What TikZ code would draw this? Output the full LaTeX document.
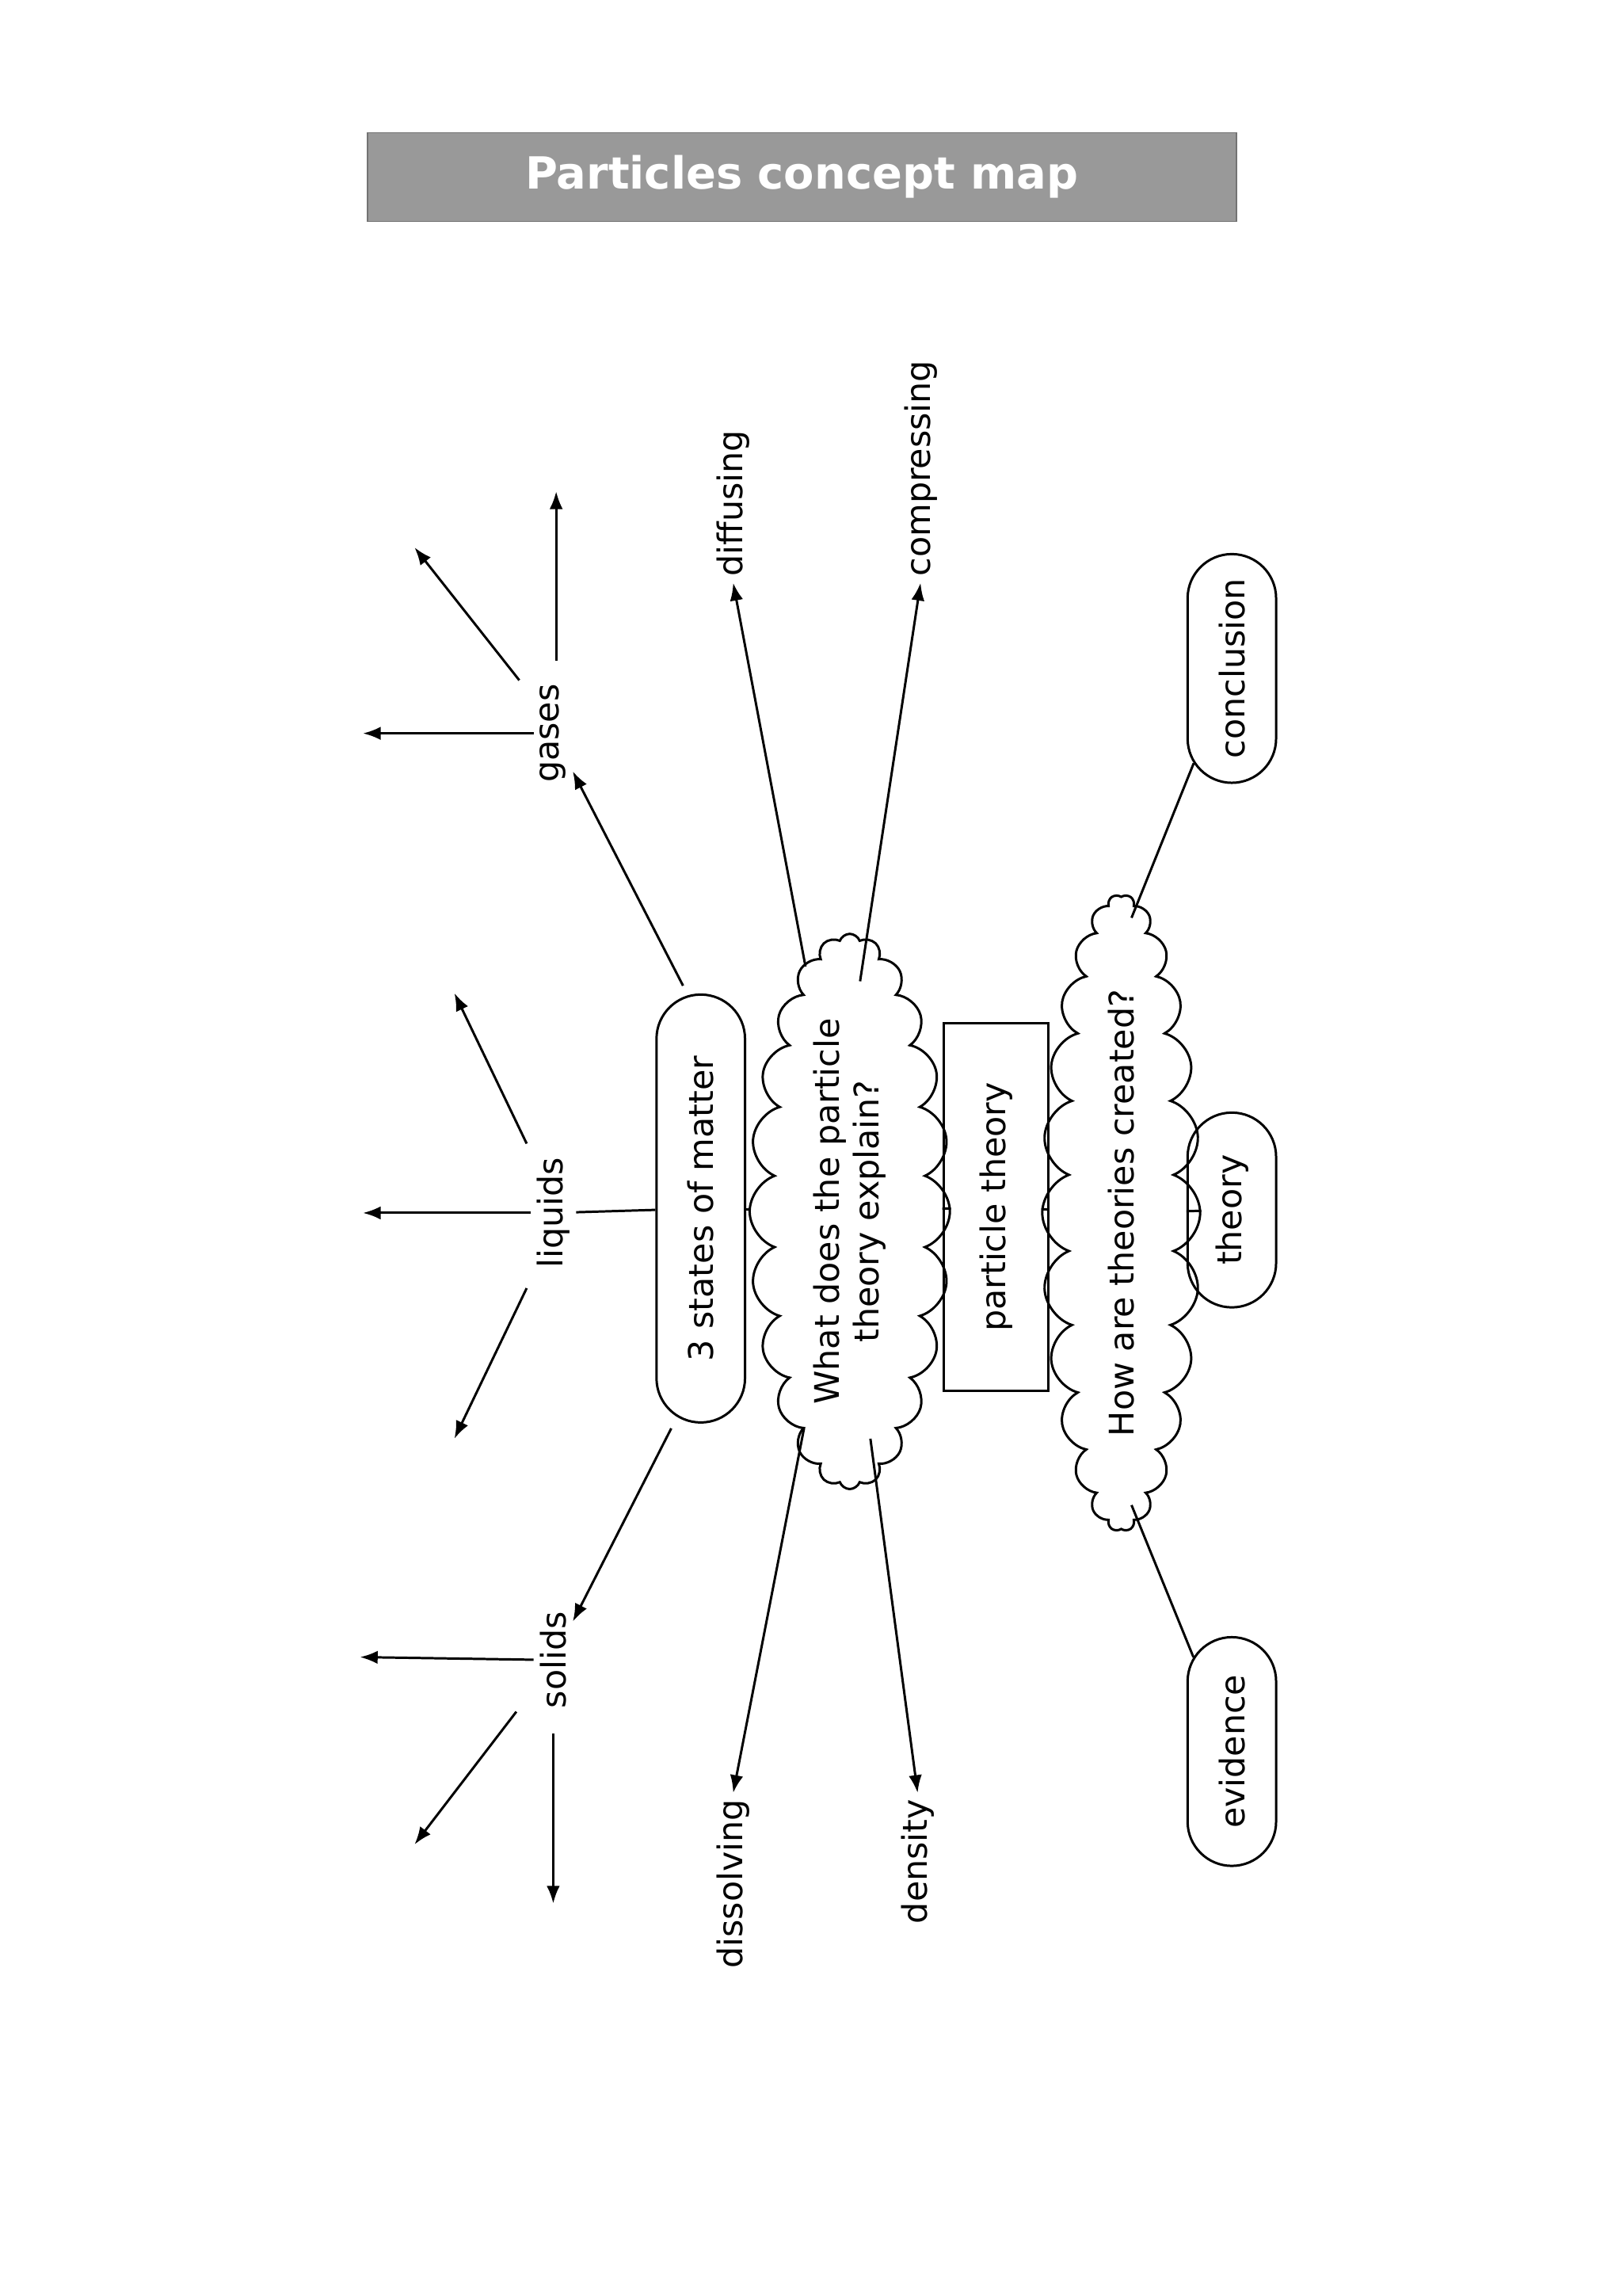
\documentclass[tikz,border=0pt]{standalone}
\usepackage{fontspec}
\setmainfont{DejaVu Sans}
\usetikzlibrary{shapes.misc,shapes.symbols,arrows.meta}
\begin{document}
\begin{tikzpicture}[x=0.5pt,y=-0.5pt,
  every node/.style={font=\fontsize{11.5}{13.5}\selectfont},
  lab/.style={rotate=90,inner sep=2pt},
  pill/.style={draw,rounded rectangle,rotate=90,line width=0.8pt,minimum height=30pt,inner sep=3pt},
  cl/.style={draw,cloud,cloud puffs=24,cloud puff arc=140,aspect=3.6,rotate=90,line width=0.8pt,inner sep=0pt,align=center},
  ln/.style={line width=0.8pt},
  ar/.style={line width=0.8pt,-{Latex[length=6pt,width=4.5pt]}}]
\useasboundingbox (0,0) rectangle (1100,1556);
\node[draw=black!55,fill=black!40,minimum width=294.5pt,minimum height=30pt,text=white,font=\fontsize{15}{18}\selectfont\bfseries] (title) at (543.5,120) {Particles concept map};
\node[pill,minimum width=151pt] (s3) at (475,819) {3 states of matter};
\node[cl,minimum width=169pt,minimum height=49pt] (c1) at (576,821) {What does the particle\\theory explain?};
\node[draw,rotate=90,line width=0.8pt,minimum width=124.5pt,minimum height=35.5pt] (pt) at (675,818) {particle theory};
\node[cl,cloud puffs=26,minimum width=200pt,minimum height=27.5pt,aspect=6] (c2) at (760,822) {How are theories created?};
\node[pill,minimum width=72pt] (th) at (835,820) {theory};
\node[pill,minimum width=83.5pt] (co) at (835,453) {conclusion};
\node[pill,minimum width=83.5pt] (ev) at (835,1187) {evidence};
\node[lab] (liq) at (375,822) {liquids};
\node[lab] (gas) at (375,497) {gases};
\node[lab] (sol) at (375,1125) {solids};
\node[lab,anchor=west] (dif) at (497,395) {diffusing};
\node[lab,anchor=west] (com) at (624,395) {compressing};
\node[lab,anchor=east] (dis) at (497,1215) {dissolving};
\node[lab,anchor=east] (den) at (622,1215) {density};
% horizontal chain
\draw[ln] (liq) -- (s3) -- (c1) -- (pt) -- (c2) -- (th);
% states
\coordinate (s3a) at (463,668); \coordinate (s3b) at (455,968);
\draw[ar] (s3a) -- (gas);
\draw[ar] (s3b) -- (sol);
% liquids
\coordinate (l1) at (246,822); \coordinate (l2) at (308,673); \coordinate (l3) at (308,975);
\coordinate (l2s) at (357,775); \coordinate (l3s) at (357,873);
\draw[ar] (liq) -- (l1);
\draw[ar] (l2s) -- (l2);
\draw[ar] (l3s) -- (l3);
% gases
\coordinate (g1) at (246,497); \coordinate (g2) at (281,371); \coordinate (g3) at (377,333);
\coordinate (g2s) at (352,461); \coordinate (g3s) at (377,448);
\draw[ar] (gas) -- (g1);
\draw[ar] (g2s) -- (g2);
\draw[ar] (g3s) -- (g3);
% solids
\coordinate (o1) at (244,1123); \coordinate (o2) at (281,1250); \coordinate (o3) at (375,1290);
\coordinate (o2s) at (350,1160); \coordinate (o3s) at (375,1175);
\draw[ar] (sol) -- (o1);
\draw[ar] (o2s) -- (o2);
\draw[ar] (o3s) -- (o3);
% cloud 1
\coordinate (c1a) at (546,655); \coordinate (c1b) at (583,665);
\coordinate (c1c) at (545,968); \coordinate (c1d) at (590,975);
\draw[ar] (c1a) -- (dif.west);
\draw[ar] (c1b) -- (com.west);
\draw[ar] (c1c) -- (dis.east);
\draw[ar] (c1d) -- (den.east);
% cloud 2
\coordinate (c2a) at (767,622); \coordinate (c2b) at (767,1020);
\draw[ln] (c2a) -- (co);
\draw[ln] (c2b) -- (ev);
\end{tikzpicture}
\end{document}
